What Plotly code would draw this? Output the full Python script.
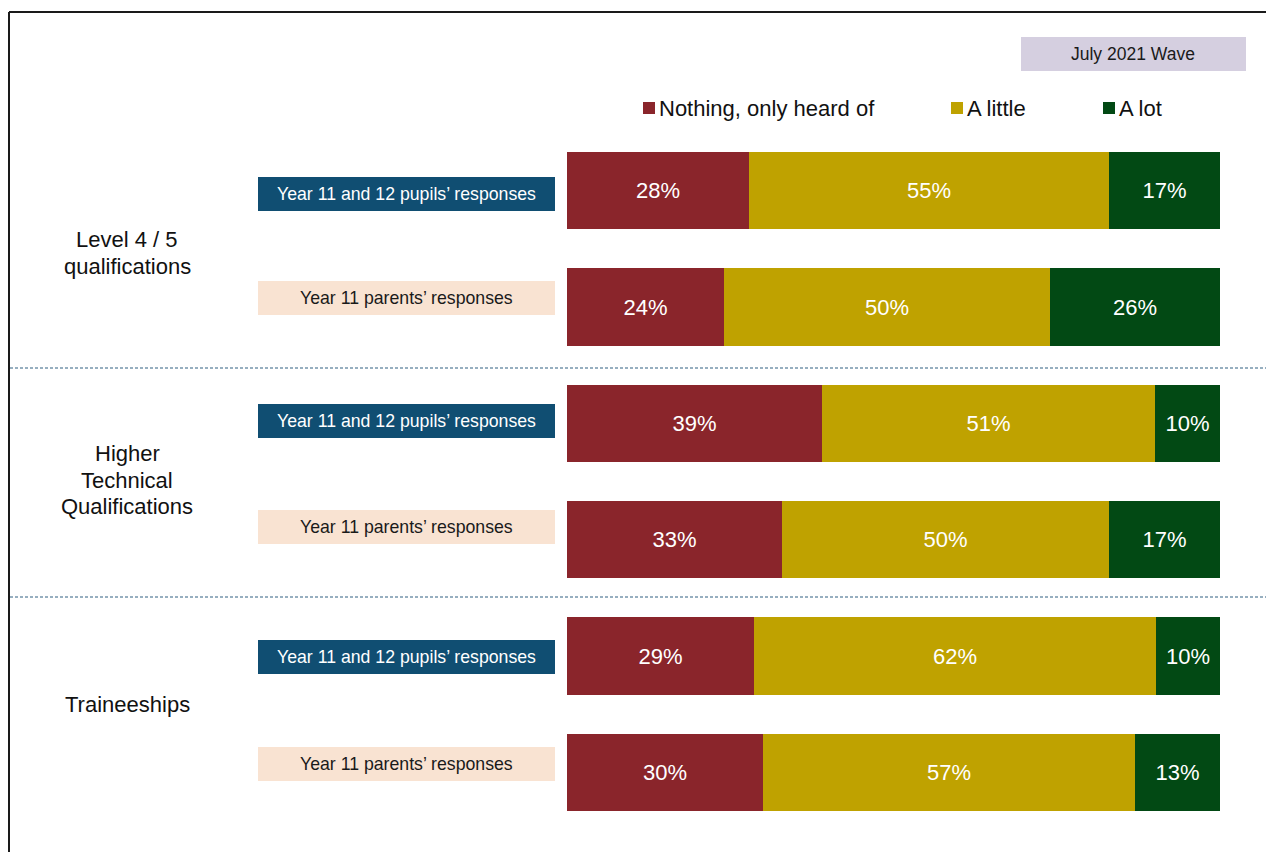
import plotly.graph_objects as go

# --- data -------------------------------------------------------------
groups = ["Level 4 / 5<br>qualifications",
          "Higher<br>Technical<br>Qualifications",
          "Traineeships"]
respondents = ["Year 11 and 12 pupils’ responses", "Year 11 parents’ responses"]

series_names = ["Nothing, only heard of", "A little", "A lot"]
nothing_only_heard = [27.9, 24.0, 39.0, 32.9, 28.6, 30.0]
a_little = [55.1, 50.0, 51.0, 50.1, 61.6, 57.0]
a_lot = [17.0, 26.0, 10.0, 17.0, 9.8, 13.0]
wave_label = "July 2021 Wave"

# --- layout helpers (pixel geometry of a 1266x852 canvas) --------------
W, H = 1266, 852
FONT = "Liberation Sans, Arial, sans-serif"
colors = ["#8A252B", "#BFA200", "#024914"]
row_centers_px = [190.5, 306.5, 423.5, 539.5, 656, 772.5]
row_step = 116.4
bar_x0, bar_x1 = 567, 1220


def px(x):
    return x / W


def py(y):
    return 1 - y / H


rows = list(range(6))
values = [nothing_only_heard, a_little, a_lot]

fig = go.Figure()
for name, vals, col in zip(series_names, values, colors):
    fig.add_trace(go.Bar(
        y=rows, x=vals, name=name, orientation="h",
        marker=dict(color=col, line=dict(width=0)),
        width=0.665,
        texttemplate="%{x:.0f}%", textposition="inside",
        insidetextanchor="middle",
        textfont=dict(family=FONT, size=22, color="white"),
        showlegend=False, hoverinfo="skip",
    ))

y_top = -row_centers_px[0] / row_step
y_bottom = (H - row_centers_px[0]) / row_step

shapes = []
annotations = []

# frame lines (top and left)
shapes.append(dict(type="line", xref="paper", yref="paper",
                   x0=px(9), x1=1, y0=py(12), y1=py(12),
                   line=dict(color="#1a1a1a", width=2)))
shapes.append(dict(type="line", xref="paper", yref="paper",
                   x0=px(9), x1=px(9), y0=py(12), y1=0,
                   line=dict(color="#1a1a1a", width=2)))

# dashed group separators
for ysep in (368, 597):
    shapes.append(dict(type="line", xref="paper", yref="paper",
                       x0=px(10), x1=1, y0=py(ysep), y1=py(ysep),
                       line=dict(color="#2E5F80", width=1, dash="3px,2px")))

# respondent label boxes
box_centers = [194, 298, 421, 527, 657, 764]
for i, yc in enumerate(box_centers):
    pupils = (i % 2 == 0)
    shapes.append(dict(type="rect", xref="paper", yref="paper",
                       x0=px(258), x1=px(555), y0=py(yc - 17), y1=py(yc + 17),
                       fillcolor="#104E72" if pupils else "#F9E3D2",
                       line=dict(width=0), layer="below"))
    annotations.append(dict(xref="paper", yref="paper", x=px(406), y=py(yc),
                            text=respondents[0] if pupils else respondents[1],
                            showarrow=False, xanchor="center", yanchor="middle",
                            font=dict(family=FONT, size=17.7,
                                      color="white" if pupils else "#1a1a1a")))

# group labels, one annotation per line for a tighter line spacing
group_centers = [253, 480, 704]
line_gap = 26.5
for g, yc in zip(groups, group_centers):
    lines = g.split("<br>")
    first = yc - line_gap * (len(lines) - 1) / 2
    for k, line in enumerate(lines):
        annotations.append(dict(xref="paper", yref="paper", x=px(127),
                                y=py(first + k * line_gap),
                                text=line, showarrow=False, xanchor="center",
                                yanchor="middle", align="center",
                                font=dict(family=FONT, size=22, color="#111111")))

# legend
legend_x = [643, 951, 1103]
for name, col, lx in zip(series_names, colors, legend_x):
    shapes.append(dict(type="rect", xref="paper", yref="paper",
                       x0=px(lx), x1=px(lx + 12), y0=py(102), y1=py(114),
                       fillcolor=col, line=dict(width=0)))
    annotations.append(dict(xref="paper", yref="paper", x=px(lx + 14), y=py(108),
                            text=name, showarrow=False, xanchor="left",
                            yanchor="middle",
                            font=dict(family=FONT, size=22, color="#111111")))

# wave tag
shapes.append(dict(type="rect", xref="paper", yref="paper",
                   x0=px(1021), x1=px(1246), y0=py(37), y1=py(71),
                   fillcolor="#D5CFE0", line=dict(width=0)))
annotations.append(dict(xref="paper", yref="paper", x=px(1133), y=py(54),
                        text=wave_label, showarrow=False, xanchor="center",
                        yanchor="middle",
                        font=dict(family=FONT, size=17.5, color="#1a1a1a")))

fig.update_layout(
    width=W, height=H,
    margin=dict(l=0, r=0, t=0, b=0),
    paper_bgcolor="white", plot_bgcolor="rgba(0,0,0,0)",
    barmode="stack", bargap=0,
    xaxis=dict(domain=[px(bar_x0), px(bar_x1)], range=[0, 100],
               visible=False, fixedrange=True),
    yaxis=dict(domain=[0, 1], range=[y_bottom, y_top],
               visible=False, fixedrange=True),
    shapes=shapes, annotations=annotations,
    uniformtext=dict(mode="show", minsize=10),
)

fig.write_html("out.html", config={"displayModeBar": False})
